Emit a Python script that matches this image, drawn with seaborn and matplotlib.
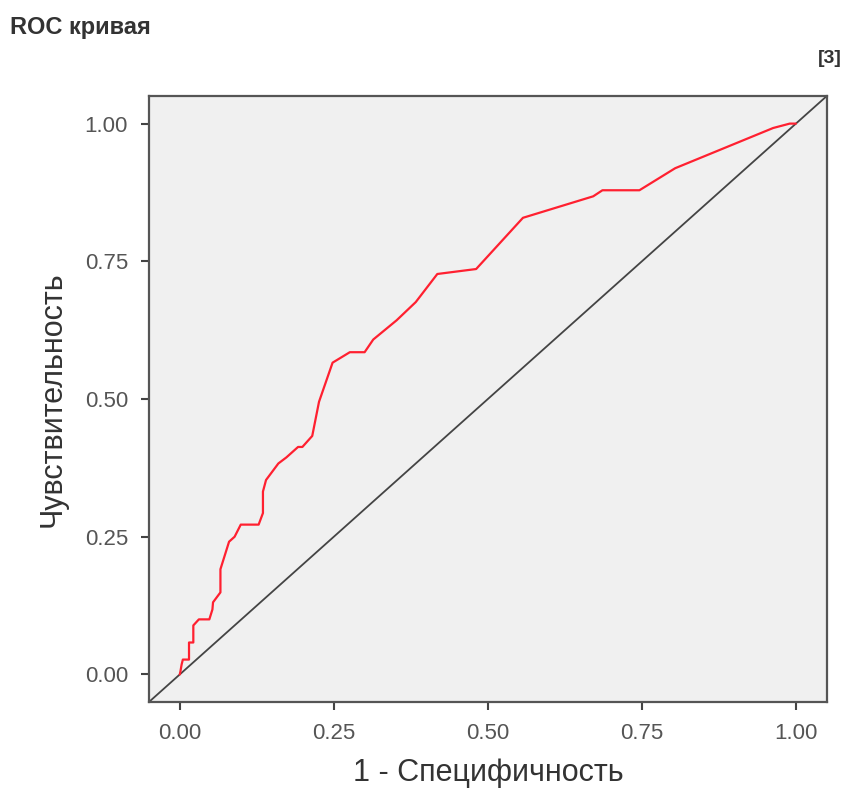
import pandas as pd
import matplotlib
matplotlib.use("Agg")
import matplotlib.pyplot as plt
import seaborn as sns

# точки ROC кривой
fpr = [0.000, 0.001, 0.003, 0.005, 0.015, 0.015, 0.022, 0.022, 0.031, 0.048,
       0.053, 0.054, 0.066, 0.066, 0.080, 0.089, 0.099, 0.128, 0.135, 0.135,
       0.140, 0.160, 0.173, 0.192, 0.199, 0.215, 0.226, 0.248, 0.276, 0.300,
       0.314, 0.352, 0.383, 0.418, 0.481, 0.557, 0.671, 0.686, 0.746, 0.804,
       0.963, 0.990, 1.000]
tpr = [0.000, 0.005, 0.018, 0.027, 0.027, 0.058, 0.058, 0.089, 0.100, 0.100,
       0.118, 0.131, 0.149, 0.191, 0.241, 0.250, 0.272, 0.272, 0.293, 0.332,
       0.353, 0.383, 0.394, 0.413, 0.413, 0.433, 0.495, 0.566, 0.585, 0.585,
       0.608, 0.643, 0.676, 0.727, 0.736, 0.829, 0.868, 0.879, 0.879, 0.919,
       0.992, 1.000, 1.000]
diag = [-0.05, 1.05]
ticks = [0.0, 0.25, 0.5, 0.75, 1.0]
tick_labels = ["0.00", "0.25", "0.50", "0.75", "1.00"]

roc = pd.DataFrame({"fpr": fpr, "tpr": tpr})

sns.set_style("ticks", {"axes.facecolor": "#f0f0f0",
                        "axes.edgecolor": "#555555"})
plt.rcParams["font.family"] = ["Liberation Sans", "DejaVu Sans"]

fig = plt.figure(figsize=(8.43, 7.9), dpi=100)
ax = fig.add_axes([0.1767, 0.1114, 0.804, 0.767])

ax.plot(diag, diag, color="#444444", lw=1.3)
sns.lineplot(data=roc, x="fpr", y="tpr", sort=False, estimator=None,
             color="#ff2030", lw=1.6, ax=ax)

ax.set_xlim(-0.05, 1.05)
ax.set_ylim(-0.05, 1.05)
ax.set_xticks(ticks)
ax.set_xticklabels(tick_labels)
ax.set_yticks(ticks)
ax.set_yticklabels(tick_labels)
ax.tick_params(length=6, width=1.5, color="#444444", labelsize=16,
               labelcolor="#555555", pad=9)
for s in ax.spines.values():
    s.set_linewidth(1.6)

ax.set_xlabel("1 - Специфичность", fontsize=22, color="#333333", labelpad=10)
ax.set_ylabel("Чувствительность", fontsize=22, color="#333333", labelpad=12)

fig.text(0.012, 0.965, "ROC кривая", fontsize=17, fontweight="bold",
         color="#333333", va="center", ha="left")
fig.text(0.998, 0.926, "[3]", fontsize=14, fontweight="bold",
         color="#333333", va="center", ha="right")

fig.savefig("out.png", dpi=100)
